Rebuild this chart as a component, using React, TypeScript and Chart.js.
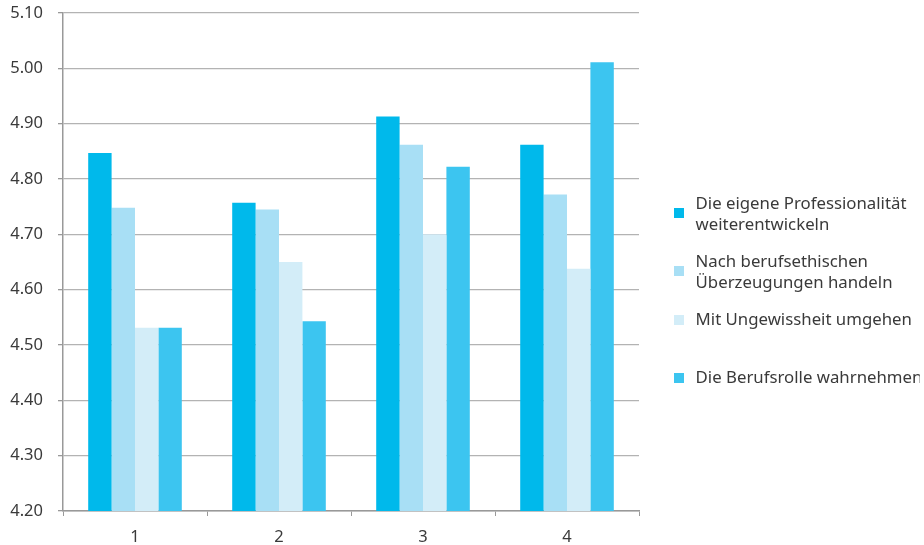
import React, { useEffect, useRef } from 'react';
import { Chart, registerables } from 'chart.js';

Chart.register(...registerables);

const categories = ['1', '2', '3', '4'];

const seriesLabels: string[][] = [
  ['Die eigene Professionalität', 'weiterentwickeln'],
  ['Nach berufsethischen', 'Überzeugungen handeln'],
  ['Mit Ungewissheit umgehen', ''],
  ['Die Berufsrolle wahrnehmen', ''],
];

const professionalitaet = [4.847, 4.757, 4.913, 4.862];
const berufsethisch = [4.748, 4.745, 4.862, 4.772];
const ungewissheit = [4.531, 4.65, 4.7, 4.638];
const berufsrolle = [4.531, 4.543, 4.822, 5.011];

const seriesValues = [professionalitaet, berufsethisch, ungewissheit, berufsrolle];
const seriesColors = ['#00B9EB', '#A8DFF5', '#D3EDF8', '#3CC5F0'];
const twoLine = [true, true, false, false];

const yMin = 4.2;
const yMax = 5.1;
const yStep = 0.1;

const FONT = "'Noto Sans', 'DejaVu Sans', sans-serif";
const TICK_SIZE = 16.5;
const LEGEND_SIZE = 16.8;
const TEXT_COLOR = '#3a3a3a';

function makeMarker(color: string, offset: number): HTMLCanvasElement {
  const c = document.createElement('canvas');
  c.width = 10;
  c.height = 10 + 2 * offset;
  const g = c.getContext('2d')!;
  g.fillStyle = color;
  g.fillRect(0, 2 * offset, 10, 10);
  return c;
}

export default function App() {
  const ref = useRef<HTMLCanvasElement>(null);

  useEffect(() => {
    const canvas = ref.current;
    if (!canvas) return;

    const mctx = document.createElement('canvas').getContext('2d')!;
    mctx.font = `${LEGEND_SIZE}px ${FONT}`;
    let wt = 0;
    seriesLabels.forEach((lines) => {
      const longest = lines.reduce((a, b) => (a.length > b.length ? a : b));
      wt = Math.max(wt, mctx.measureText(longest).width);
    });

    const chartRight = 639;
    const legendLeft = 654.8;
    const padR = Math.max(0, 231 - wt);
    const legendWidth = 924 - padR - legendLeft;

    const markers = seriesColors.map((c, i) => makeMarker(c, twoLine[i] ? 9 : 0));

    const padTop = 13;
    const legendPad = 16;
    const titleH = 195.6 - padTop - legendPad;

    const chart = new Chart(canvas, {
      type: 'bar',
      data: {
        labels: categories,
        datasets: seriesValues.map((vals, i) => ({
          label: seriesLabels[i].join(' '),
          data: vals,
          backgroundColor: seriesColors[i],
          borderWidth: 0,
          categoryPercentage: 0.65,
          barPercentage: 1,
        })),
      },
      options: {
        responsive: false,
        animation: false,
        layout: { padding: { top: padTop, right: padR, left: 0, bottom: 0 } },
        scales: {
          x: {
            type: 'category',
            offset: true,
            grid: {
              offset: true,
              drawOnChartArea: false,
              drawTicks: true,
              tickLength: 5,
              color: '#999999',
              lineWidth: 1,
            },
            border: { display: true, color: '#999999', width: 1.5 },
            ticks: {
              font: { family: FONT, size: TICK_SIZE },
              color: TEXT_COLOR,
              padding: 11,
            },
            afterFit: (s: any) => {
              s.height = 34;
            },
          },
          y: {
            type: 'linear',
            min: yMin,
            max: yMax,
            grid: {
              color: '#b3b3b3',
              lineWidth: 1.3,
              drawTicks: true,
              tickLength: 5,
              tickColor: '#999999',
            },
            border: { display: true, color: '#999999', width: 1.5 },
            ticks: {
              stepSize: yStep,
              font: { family: FONT, size: TICK_SIZE },
              color: TEXT_COLOR,
              padding: 15,
              callback: (v: any) => Number(v).toFixed(2),
            },
            afterFit: (s: any) => {
              s.width = 63;
              s.paddingTop = 0;
              s.paddingBottom = 0;
            },
          },
          gap: {
            type: 'linear',
            position: 'right',
            display: true,
            grid: { display: false, drawTicks: false },
            border: { display: false },
            ticks: { display: false },
            afterFit: (s: any) => {
              s.width = legendLeft - chartRight;
              s.paddingTop = 0;
              s.paddingBottom = 0;
            },
          },
        },
        plugins: {
          tooltip: { enabled: false },
          legend: {
            display: true,
            position: 'right',
            align: 'start',
            maxWidth: legendWidth,
            title: {
              display: true,
              text: '',
              font: { size: 10, lineHeight: 1 },
              padding: { top: titleH - 10, bottom: 0 },
            },
            labels: {
              usePointStyle: true,
              pointStyleWidth: 16.4,
              boxWidth: 10,
              boxHeight: 10,
              padding: legendPad,
              color: TEXT_COLOR,
              font: { family: FONT, size: LEGEND_SIZE, lineHeight: '21px' },
              generateLabels: (ch: any) =>
                ch.data.datasets.map((ds: any, i: number) => ({
                  text: seriesLabels[i],
                  fillStyle: seriesColors[i],
                  strokeStyle: seriesColors[i],
                  lineWidth: 0,
                  hidden: !ch.isDatasetVisible(i),
                  datasetIndex: i,
                  pointStyle: markers[i],
                  fontColor: TEXT_COLOR,
                })),
            },
          },
        },
      },
    } as any);

    return () => chart.destroy();
  }, []);

  return (
    <div style={{ position: 'fixed', left: 0, top: 0, width: 924, height: 545, background: '#ffffff' }}>
      <canvas ref={ref} width={924} height={545} style={{ display: 'block' }} />
    </div>
  );
}
